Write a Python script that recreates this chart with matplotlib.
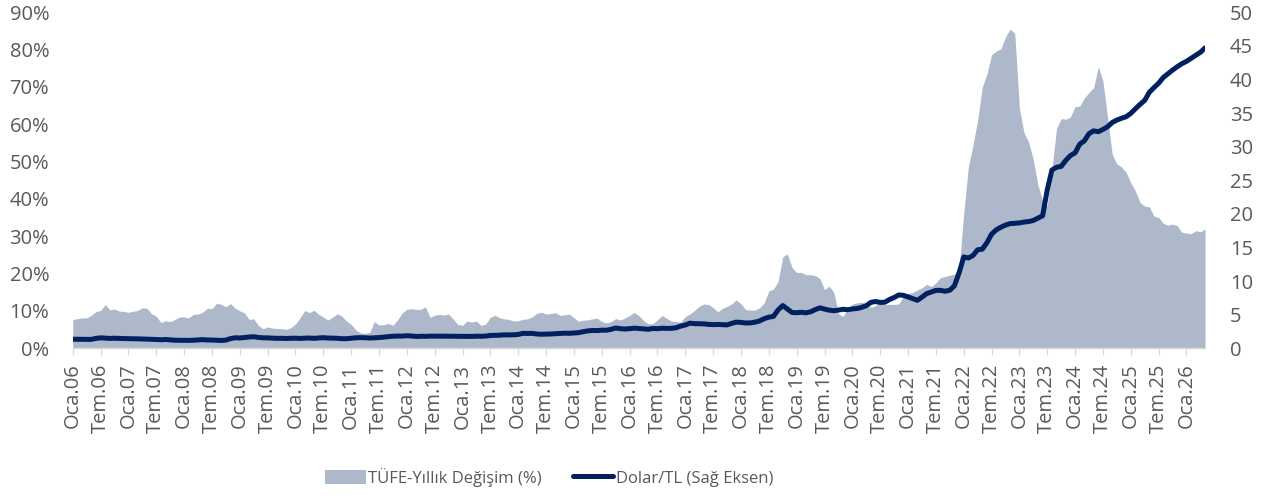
import matplotlib
matplotlib.use("Agg")
import matplotlib.pyplot as plt
from matplotlib.patches import Patch
from matplotlib.lines import Line2D
from matplotlib.ticker import FuncFormatter, MultipleLocator

plt.rcParams['font.family'] = ['Open Sans', 'DejaVu Sans']

# TÜFE yıllık değişim (%), aylık - Aralık 2005'ten başlayarak
tufe_2005 = [7.72]
tufe_2006 = [7.93, 8.15, 8.16, 8.83, 9.86, 10.12, 11.69, 10.26, 10.55, 9.98, 9.86, 9.65]
tufe_2007 = [9.93, 10.16, 10.86, 10.72, 9.23, 8.60, 6.90, 7.39, 7.12, 7.70, 8.40, 8.39]
tufe_2008 = [8.17, 9.10, 9.15, 9.66, 10.74, 10.61, 12.06, 11.77, 11.13, 11.99, 10.76, 10.06]
tufe_2009 = [9.50, 7.73, 7.89, 6.13, 5.24, 5.73, 5.39, 5.33, 5.27, 5.08, 5.53, 6.53]
tufe_2010 = [8.19, 10.13, 9.56, 10.19, 9.10, 8.37, 7.58, 8.33, 9.24, 8.62, 7.29, 6.40]
tufe_2011 = [4.90, 4.16, 3.99, 4.26, 7.17, 6.24, 6.31, 6.65, 6.15, 7.66, 9.48, 10.45]
tufe_2012 = [10.61, 10.43, 10.43, 11.14, 8.28, 8.87, 9.07, 8.88, 9.19, 7.80, 6.37, 6.16]
tufe_2013 = [7.31, 7.03, 7.29, 6.13, 6.51, 8.30, 8.88, 8.17, 7.88, 7.71, 7.32, 7.40]
tufe_2014 = [7.75, 7.89, 8.39, 9.38, 9.66, 9.16, 9.32, 9.54, 8.86, 8.96, 9.15, 8.17]
tufe_2015 = [7.24, 7.55, 7.61, 7.91, 8.09, 7.20, 6.81, 7.14, 7.95, 7.58, 8.10, 8.81]
tufe_2016 = [9.58, 8.78, 7.46, 6.57, 6.58, 7.64, 8.79, 8.05, 7.28, 7.16, 7.00, 8.53]
tufe_2017 = [9.22, 10.13, 11.29, 11.87, 11.72, 10.90, 9.79, 10.68, 11.20, 11.90, 12.98, 11.92]
tufe_2018 = [10.35, 10.26, 10.23, 10.85, 12.15, 15.39, 15.85, 17.90, 24.52, 25.24, 21.62, 20.30]
tufe_2019 = [20.35, 19.67, 19.71, 19.50, 18.71, 15.72, 16.65, 15.01, 9.26, 8.55, 10.56, 11.84]
tufe_2020 = [12.15, 12.37, 11.86, 10.94, 11.39, 12.62, 11.76, 11.77, 11.75, 11.89, 14.03, 14.60]
tufe_2021 = [14.97, 15.61, 16.19, 17.14, 16.59, 17.53, 18.95, 19.25, 19.58, 19.89, 21.31, 36.08]
tufe_2022 = [48.69, 54.44, 61.14, 69.97, 73.50, 78.62, 79.60, 80.21, 83.45, 85.51, 84.39, 64.27]
tufe_2023 = [57.68, 55.18, 50.51, 43.68, 39.59, 38.21, 47.83, 58.94, 61.53, 61.36, 61.98, 64.77]
tufe_2024 = [64.86, 67.07, 68.50, 69.80, 75.45, 71.60, 61.78, 51.97, 49.38, 48.58, 47.09, 44.38]
tufe_2025 = [42.12, 39.05, 38.10, 37.86, 35.41, 35.05, 33.52, 32.95, 33.29, 32.87, 31.07, 30.89]
tufe_2026 = [30.70, 31.50, 31.20, 32.00]

# Dolar/TL, aylık ortalama - Aralık 2005'ten başlayarak
usd_2005 = [1.35]
usd_2006 = [1.34, 1.32, 1.33, 1.33, 1.48, 1.56, 1.52, 1.47, 1.50, 1.47, 1.45, 1.43]
usd_2007 = [1.42, 1.41, 1.38, 1.36, 1.34, 1.31, 1.27, 1.31, 1.26, 1.20, 1.19, 1.17]
usd_2008 = [1.18, 1.20, 1.25, 1.29, 1.24, 1.23, 1.20, 1.17, 1.22, 1.44, 1.57, 1.54]
usd_2009 = [1.60, 1.68, 1.72, 1.62, 1.56, 1.55, 1.52, 1.48, 1.49, 1.46, 1.49, 1.50]
usd_2010 = [1.47, 1.51, 1.53, 1.48, 1.54, 1.58, 1.53, 1.51, 1.49, 1.43, 1.43, 1.49]
usd_2011 = [1.56, 1.59, 1.57, 1.53, 1.56, 1.60, 1.66, 1.74, 1.80, 1.82, 1.82, 1.87]
usd_2012 = [1.83, 1.76, 1.79, 1.78, 1.81, 1.81, 1.80, 1.80, 1.80, 1.79, 1.79, 1.78]
usd_2013 = [1.77, 1.77, 1.80, 1.79, 1.82, 1.91, 1.93, 1.95, 2.01, 1.99, 2.01, 2.06]
usd_2014 = [2.23, 2.21, 2.22, 2.13, 2.09, 2.11, 2.13, 2.17, 2.21, 2.25, 2.23, 2.28]
usd_2015 = [2.33, 2.47, 2.59, 2.65, 2.64, 2.70, 2.69, 2.82, 3.02, 2.92, 2.87, 2.92]
usd_2016 = [3.00, 2.95, 2.89, 2.83, 2.95, 2.92, 2.99, 2.96, 2.97, 3.06, 3.30, 3.47]
usd_2017 = [3.74, 3.67, 3.66, 3.64, 3.56, 3.52, 3.55, 3.51, 3.48, 3.71, 3.90, 3.85]
usd_2018 = [3.77, 3.78, 3.89, 4.06, 4.41, 4.63, 4.75, 5.71, 6.36, 5.84, 5.33, 5.30]
usd_2019 = [5.36, 5.28, 5.43, 5.76, 6.02, 5.84, 5.68, 5.59, 5.69, 5.81, 5.74, 5.86]
usd_2020 = [5.92, 6.08, 6.35, 6.84, 6.96, 6.83, 6.86, 7.26, 7.56, 7.94, 7.88, 7.65]
usd_2021 = [7.39, 7.14, 7.61, 8.13, 8.38, 8.62, 8.62, 8.49, 8.64, 9.31, 11.24, 13.59]
usd_2022 = [13.44, 13.81, 14.66, 14.75, 15.71, 16.99, 17.62, 18.02, 18.33, 18.56, 18.60, 18.66]
usd_2023 = [18.79, 18.86, 19.03, 19.37, 19.72, 23.57, 26.53, 26.94, 27.07, 27.97, 28.69, 29.09]
usd_2024 = [30.38, 30.88, 31.95, 32.36, 32.23, 32.57, 32.97, 33.60, 33.97, 34.23, 34.46, 34.96]
usd_2025 = [35.65, 36.30, 36.90, 38.10, 38.80, 39.45, 40.30, 40.85, 41.40, 41.90, 42.35, 42.70]
usd_2026 = [43.15, 43.60, 44.05, 44.70]

tufe = (tufe_2005 + tufe_2006 + tufe_2007 + tufe_2008 + tufe_2009 + tufe_2010 + tufe_2011
        + tufe_2012 + tufe_2013 + tufe_2014 + tufe_2015 + tufe_2016 + tufe_2017 + tufe_2018
        + tufe_2019 + tufe_2020 + tufe_2021 + tufe_2022 + tufe_2023 + tufe_2024 + tufe_2025
        + tufe_2026)
usd = (usd_2005 + usd_2006 + usd_2007 + usd_2008 + usd_2009 + usd_2010 + usd_2011
       + usd_2012 + usd_2013 + usd_2014 + usd_2015 + usd_2016 + usd_2017 + usd_2018
       + usd_2019 + usd_2020 + usd_2021 + usd_2022 + usd_2023 + usd_2024 + usd_2025
       + usd_2026)

# x ekseni etiketleri, her 6 ayda bir
tick_labels = []
for yy in range(6, 27):
    tick_labels.append("Oca.%02d" % yy)
    if yy < 26:
        tick_labels.append("Tem.%02d" % yy)

x = list(range(len(tufe)))
tick_pos = [6 * k for k in range(len(tick_labels))]

area_color = "#ADB9CA"
line_color = "#002060"
text_color = "#595959"

fig = plt.figure(figsize=(12.65, 4.98), dpi=100)
ax = fig.add_axes([0.0575, 0.3006, 0.8951, 0.6747])
ax2 = ax.twinx()

ax.fill_between(x, 0, tufe, color=area_color, linewidth=0)
ax2.plot(x, usd, color=line_color, linewidth=3.6, solid_capstyle="round", solid_joinstyle="round")

ax.set_xlim(0, len(tufe) - 1)
ax.set_ylim(0, 90)
ax2.set_ylim(0, 50)
ax.yaxis.set_major_locator(MultipleLocator(10))
ax.yaxis.set_major_formatter(FuncFormatter(lambda v, p: "%d%%" % v))
ax2.yaxis.set_major_locator(MultipleLocator(5))

ax.set_xticks(tick_pos)
ax.set_xticklabels(tick_labels, rotation=90)

for a in (ax, ax2):
    for s in a.spines.values():
        s.set_visible(False)
ax.spines["bottom"].set_visible(True)
ax.spines["bottom"].set_color("#D9D9D9")
ax.spines["bottom"].set_linewidth(1.0)

ax.tick_params(axis="x", colors="#D9D9D9", length=5, width=1, pad=6, labelsize=14.5, labelcolor=text_color)
ax.tick_params(axis="y", length=0, pad=17, labelsize=14.5, labelcolor=text_color)
ax2.tick_params(axis="y", length=0, pad=18, labelsize=14.5, labelcolor=text_color)

handles = [Patch(facecolor=area_color, edgecolor="none"),
           Line2D([0], [0], color=line_color, linewidth=3.6, solid_capstyle="round")]
fig.legend(handles, ["TÜFE-Yıllık Değişim (%)", "Dolar/TL (Sağ Eksen)"],
           loc="center", bbox_to_anchor=(0.434, 0.042), ncol=2, frameon=False,
           fontsize=12, labelcolor=text_color, handlelength=2.45, handleheight=0.9,
           handletextpad=0.15, columnspacing=1.85)

fig.savefig("out.png", dpi=100)
